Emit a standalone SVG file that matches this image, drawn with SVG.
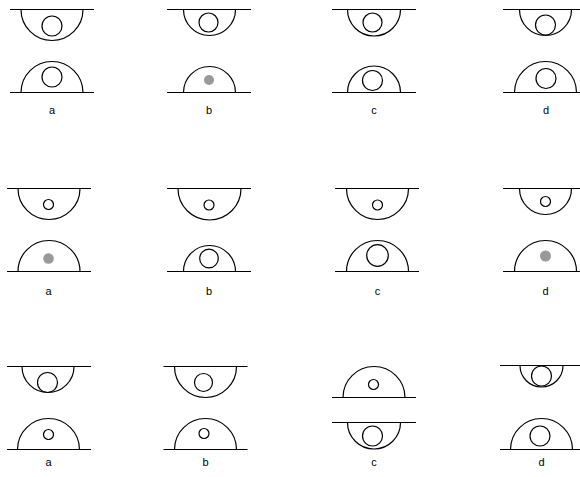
<svg xmlns="http://www.w3.org/2000/svg" width="580" height="477" viewBox="0 0 580 477">
<style>
.l{stroke:#000;stroke-width:1.2;fill:none}
.c{stroke:#000;stroke-width:1.2;fill:none}
.g{fill:#999;stroke:none}
.t{font-family:"Liberation Sans",Arial,sans-serif;font-size:11px;fill:#000;text-anchor:middle}
</style>
<rect width="580" height="477" fill="#fff"/>
<g id="r1a">
<path class="l" d="M10,9.5H94M21,9.5A31,31 0 0 0 83,9.5"/>
<circle class="c" cx="52" cy="26" r="10"/>
<path class="l" d="M10,92.5H94M21,92.5A31,31 0 0 1 83,92.5"/>
<circle class="c" cx="52" cy="77" r="10"/>
<text class="t" x="52" y="114">a</text>
</g>
<g id="r1b">
<path class="l" d="M167,9.5H251M183.5,9.5A26,26 0 0 0 235.5,9.5"/>
<circle class="c" cx="208.5" cy="22.5" r="9.5"/>
<path class="l" d="M167,92.5H251M183.5,92.5A26,26 0 0 1 235.5,92.5"/>
<circle class="g" cx="209" cy="80" r="5"/>
<text class="t" x="209" y="114">b</text>
</g>
<g id="r1c">
<path class="l" d="M332,9.5H416M347.5,9.5A26.5,26.5 0 0 0 400.5,9.5"/>
<circle class="c" cx="372.5" cy="22.5" r="9.5"/>
<path class="l" d="M332,92.5H416M347.5,92.5A26.5,26.5 0 0 1 400.5,92.5"/>
<circle class="c" cx="372.5" cy="80.5" r="10"/>
<text class="t" x="374" y="114">c</text>
</g>
<g id="r1d">
<path class="l" d="M503,9.5H587M519.5,9.5A26,26 0 0 0 571.5,9.5"/>
<circle class="c" cx="545.5" cy="25" r="10"/>
<path class="l" d="M503,92.5H587M514.5,92.5A31,31 0 0 1 576.5,92.5"/>
<circle class="c" cx="546" cy="78.5" r="10"/>
<text class="t" x="546" y="114">d</text>
</g>
<g id="r2a">
<path class="l" d="M7,188.5H91M18,188.5A31,31 0 0 0 80,188.5"/>
<circle class="c" cx="48.5" cy="204.5" r="5"/>
<path class="l" d="M7,271.5H91M18,271.5A31,31 0 0 1 80,271.5"/>
<circle class="g" cx="48.5" cy="258.5" r="5.3"/>
<text class="t" x="48.5" y="295">a</text>
</g>
<g id="r2b">
<path class="l" d="M167,188.5H251M178,188.5A31.5,31.5 0 0 0 241,188.5"/>
<circle class="c" cx="209" cy="205" r="5"/>
<path class="l" d="M167,271.5H251M183.5,271.5A26,26 0 0 1 235.5,271.5"/>
<circle class="c" cx="209" cy="258.5" r="9.3"/>
<text class="t" x="209" y="295">b</text>
</g>
<g id="r2c">
<path class="l" d="M335,188.5H419M346.5,188.5A31,31 0 0 0 408.5,188.5"/>
<circle class="c" cx="377.5" cy="205" r="5"/>
<path class="l" d="M335,271.5H419M346.5,271.5A31,31 0 0 1 408.5,271.5"/>
<circle class="c" cx="377.5" cy="255.5" r="10.8"/>
<text class="t" x="377.5" y="295">c</text>
</g>
<g id="r2d">
<path class="l" d="M503,188.5H587M519.5,188.5A26,26 0 0 0 571.5,188.5"/>
<circle class="c" cx="545.5" cy="201.5" r="5"/>
<path class="l" d="M503,271.5H587M514.5,271.5A31,31 0 0 1 576.5,271.5"/>
<circle class="g" cx="545.5" cy="256" r="5.5"/>
<text class="t" x="545.5" y="295">d</text>
</g>
<g id="r3a">
<path class="l" d="M7,366.5H91M22,366.5A26,26 0 0 0 74,366.5"/>
<circle class="c" cx="47.5" cy="382.5" r="10"/>
<path class="l" d="M7,449.5H91M17.5,449.5A31,31 0 0 1 79.5,449.5"/>
<circle class="c" cx="48.5" cy="434.5" r="5"/>
<text class="t" x="48.5" y="466">a</text>
</g>
<g id="r3b">
<path class="l" d="M163.5,366.5H247.5M174.5,366.5A31,31 0 0 0 236.5,366.5"/>
<circle class="c" cx="203.5" cy="382.5" r="9"/>
<path class="l" d="M163.5,449.5H247.5M174.5,449.5A31,31 0 0 1 236.5,449.5"/>
<circle class="c" cx="204" cy="433.5" r="5"/>
<text class="t" x="205.5" y="466">b</text>
</g>
<g id="r3c">
<path class="l" d="M332,397.5H416M343,397.5A31,31 0 0 1 405,397.5"/>
<circle class="c" cx="373.5" cy="384.5" r="5"/>
<path class="l" d="M332,422.5H416M347.5,422.5A26.5,26.5 0 0 0 400.5,422.5"/>
<circle class="c" cx="372.5" cy="436" r="10"/>
<text class="t" x="374" y="466">c</text>
</g>
<g id="r3d">
<path class="l" d="M500,365.5H584M520,365.5A21.5,21.5 0 0 0 563,365.5"/>
<circle class="c" cx="541.5" cy="376" r="10"/>
<path class="l" d="M500,449.5H584M510.5,449.5A31,31 0 0 1 572.5,449.5"/>
<circle class="c" cx="540" cy="436" r="10"/>
<text class="t" x="541.5" y="466">d</text>
</g>
</svg>
